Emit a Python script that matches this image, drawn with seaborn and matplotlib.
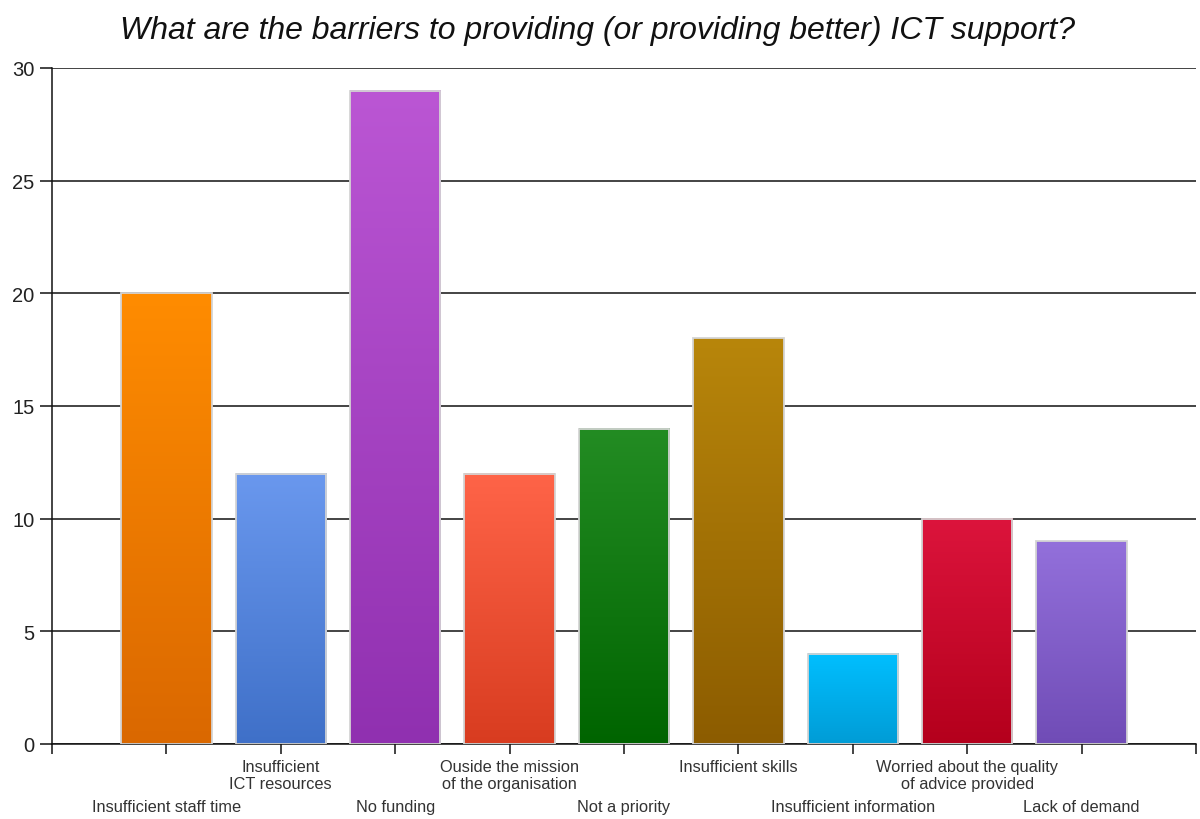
import numpy as np
import pandas as pd
import matplotlib
matplotlib.use("Agg")
import matplotlib.pyplot as plt
import seaborn as sns
from matplotlib.colors import LinearSegmentedColormap

# ---- data ----
categories = [
    "Insufficient staff time",
    "Insufficient\nICT resources",
    "No funding",
    "Ouside the mission\nof the organisation",
    "Not a priority",
    "Insufficient skills",
    "Insufficient information",
    "Worried about the quality\nof advice provided",
    "Lack of demand",
]
values = [20, 12, 29, 12, 14, 18, 4, 10, 9]
top_colors = ["#FF8C00", "#6A98EE", "#BB56D4", "#FF6448", "#238C23",
              "#B8860B", "#00BFFF", "#DC143C", "#9370DB"]
bottom_colors = ["#DA6800", "#3F70C8", "#9030B0", "#D83C20", "#006400",
                 "#8C5C00", "#009CD6", "#B4001C", "#704CB6"]
y_ticks = [0, 5, 10, 15, 20, 25, 30]
title = "What are the barriers to providing (or providing better) ICT support?"

sns.set_style("white")
plt.rcParams['font.family'] = ['Liberation Sans', 'DejaVu Sans']

fig = plt.figure(figsize=(12, 8.2), dpi=100)
ax = fig.add_axes([52 / 1200, 1 - 745 / 820, (1196 - 52) / 1200, (745 - 69) / 820])

df = pd.DataFrame({"cat": categories, "val": values})
sns.barplot(data=df, x="cat", y="val", hue="cat", order=categories,
            hue_order=categories, palette=top_colors, saturation=1,
            width=0.79, legend=False, ax=ax)

# gradient fill clipped to each bar
for patch in list(ax.patches):
    x0, y0 = patch.get_x(), patch.get_y()
    w, h = patch.get_width(), patch.get_height()
    idx = int(round(x0 + w / 2))
    cmap = LinearSegmentedColormap.from_list(
        f"g{idx}", [bottom_colors[idx], top_colors[idx]])
    grad = np.linspace(0, 1, 256).reshape(-1, 1)
    ax.imshow(grad, extent=[x0, x0 + w, y0, y0 + h], origin="lower",
              cmap=cmap, aspect="auto", zorder=2, interpolation="bilinear")
    patch.set_facecolor("none")
    patch.set_edgecolor("#d4d4d4")
    patch.set_linewidth(1.3)
    patch.set_zorder(3)

ax.set_xlim(-1, len(categories))
ax.set_ylim(0, 30)
ax.set_yticks(y_ticks)
ax.set_yticklabels([str(v) for v in y_ticks])
ax.set_xticks(range(-1, len(categories) + 1))
ax.set_xticklabels([""] + categories + [""])
ax.set_xlabel("")
ax.set_ylabel("")

ax.yaxis.grid(True, color="#111111", linewidth=1.1)
ax.xaxis.grid(False)
ax.set_axisbelow(True)

for s in ["top", "right"]:
    ax.spines[s].set_visible(False)
for s in ["left", "bottom"]:
    ax.spines[s].set_color("#111111")
    ax.spines[s].set_linewidth(1.1)

ax.tick_params(axis="x", bottom=True, direction="out", length=7.5, width=1.1,
               color="#111111", labelsize=11.8, labelcolor="#333333")
ax.tick_params(axis="y", left=True, direction="out", length=9, width=1.1,
               color="#111111", labelsize=14.5, labelcolor="#222222", pad=3.5)

for lbl in ax.get_xticklabels():
    lbl.set_linespacing(1.15)

for i, tick in enumerate(ax.xaxis.get_major_ticks()):
    p = i - 1
    if p in (1, 3, 5, 7):
        tick.set_pad(3.5)
    else:
        tick.set_pad(32)

fig.text(597 / 1200, 1 - 31 / 820, title, ha="center", va="center",
         fontsize=23, style="italic", color="#111111")

fig.savefig("out.png", dpi=100, facecolor="white")
